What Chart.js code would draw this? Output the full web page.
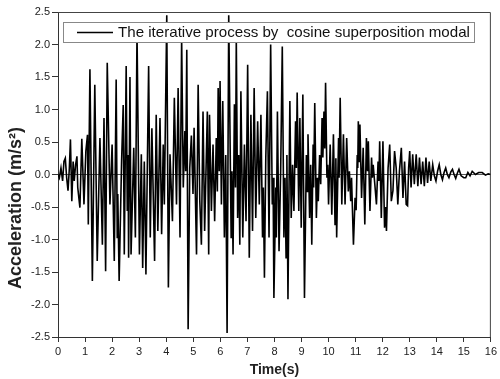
<!DOCTYPE html>
<html>
<head>
<meta charset="utf-8">
<script src="https://cdn.jsdelivr.net/npm/chart.js@4.4.1/dist/chart.umd.min.js"></script>
<style>
html,body{margin:0;padding:0;background:#fff;}
#c{display:block;}
</style>
</head>
<body>
<canvas id="c" width="500" height="379" style="width:500px;height:379px"></canvas>
<script>
// ---- data ----
const legendLabel = "The iterative process by  cosine superposition modal";
const xTitle = "Time(s)";
const yTitle = "Acceleration (m/s\u00B2)";

const time = [
0,0.05,0.11,0.17,0.22,0.27,0.32,0.37,0.42,0.46,0.51,0.56,0.60,0.65,0.70,0.73,0.81,0.88,0.96,1.03,1.09,1.12,1.18,1.27,1.36,1.45,1.55,1.64,1.70,1.76,1.82,1.92,2.00,2.08,2.15,2.19,2.21,2.26,2.35,2.41,2.45,2.52,2.56,2.59,2.61,2.66,
2.70,2.80,2.86,2.92,3.01,3.08,3.13,3.19,3.25,3.35,3.41,3.47,3.57,3.63,3.69,3.77,3.83,3.89,3.93,4.02,4.08,4.14,4.23,4.30,4.38,4.44,4.51,4.57,4.63,4.69,4.72,4.76,4.81,4.87,4.93,4.99,5.03,5.12,5.18,
5.24,5.30,5.36,5.42,5.52,5.57,5.60,5.67,5.73,5.79,5.85,5.89,5.92,5.96,5.99,6.04,6.09,6.15,6.20,6.25,6.31,6.40,6.43,6.47,6.52,6.56,6.59,6.64,6.68,6.72,6.76,6.83,6.89,6.95,7.01,7.07,7.13,7.19,7.25,7.31,7.38,7.44,7.50,7.56,7.59,7.63,7.68,
7.74,7.80,7.86,7.92,7.95,7.98,8.05,8.07,8.11,8.17,8.23,8.29,8.35,8.39,8.43,8.46,8.50,8.57,8.62,8.67,8.72,8.78,8.81,8.84,8.90,8.94,8.99,9.05,9.11,9.18,9.21,9.24,9.30,9.34,9.38,9.43,9.45,9.49,9.55,9.59,9.62,9.67,9.71,9.76,9.79,9.83,9.86,9.89,9.94,9.97,10.00,10.06,10.12,10.18,10.24,10.27,10.30,
10.37,10.39,10.43,10.49,10.55,10.61,10.67,10.73,10.77,10.82,10.85,10.92,10.98,11.02,11.06,11.08,11.10,11.13,11.16,11.22,11.28,11.34,11.40,11.44,11.47,11.53,11.59,11.62,11.65,11.71,11.77,11.83,11.86,11.89,11.95,12.01,12.07,12.11,12.14,12.20,12.26,12.32,12.38,12.44,12.50,12.56,12.62,12.69,12.75,12.81,12.87,
12.92,12.96,13.00,13.05,13.11,13.17,13.24,13.30,13.36,13.42,13.48,13.54,13.60,13.66,13.72,13.78,13.85,13.91,13.97,14.03,14.09,14.15,14.21,14.27,14.33,14.39,14.45,14.52,14.58,14.64,14.70,14.76,14.82,14.90,15.00,15.07,15.15,15.23,15.31,15.43,15.55,15.68,15.80,15.90,16.00
];

const accel = [
0,-0.05,0.10,-0.10,0.20,0.25,-0.05,-0.25,0.10,0.54,-0.41,0.20,-0.10,0.15,0.28,-0.20,-0.51,0.55,-0.46,0.36,0.61,-0.77,1.62,-1.64,1.38,-1.33,0.56,-1.08,0.87,-1.49,1.72,-0.46,0.46,-1.33,1.46,-0.97,-0.30,-1.64,0.20,1.07,-1.23,1.67,-0.56,0.30,-1.28,1.50,
-1.23,0.41,-0.97,2.20,-1.23,0.31,-1.44,0.20,-1.54,1.67,-0.97,0.71,-1.33,0.92,-0.87,0.87,-0.92,0.46,-0.46,2.45,-1.74,0.31,-0.72,1.18,-0.46,1.33,-0.97,2.10,-0.20,0.67,0.05,1.92,-2.38,0.10,0.60,-0.30,0.72,-1.23,1.38,
-0.40,-1.08,0.97,-0.87,0.97,-1.23,0.92,-0.56,0.46,-0.72,0.56,-0.26,1.33,0.05,1.44,-0.46,1.13,-0.97,0.30,-2.44,2.45,-0.97,0.05,-1.23,1.08,-0.20,2.10,-0.67,0.30,-1.08,1.28,-0.97,0.46,-0.72,1.69,-1.28,0.92,-0.87,1.33,-0.67,0.82,-0.46,0.92,-0.97,-0.20,-1.59,0.26,
1.28,-0.97,2.00,-0.46,-0.05,-1.90,-0.20,-0.97,0.97,-1.18,0.05,1.97,-0.97,-0.05,-1.28,0.30,-1.92,1.13,-0.67,0.15,-0.56,0.82,0.10,1.26,-0.56,0.87,-0.82,1.23,-1.90,0.30,-0.26,0.62,-0.67,0.15,-1.08,0.46,-0.20,1.10,-0.67,-0.05,-0.41,0.30,-0.15,0.87,0.26,0.97,0.40,1.41,-0.05,0.15,-0.46,0.46,-0.62,0.62,-0.77,0.25,-0.97,
0.56,-0.05,1.18,-0.46,0.62,-0.46,0.56,-0.26,0.05,-0.41,-0.05,-1.08,-0.36,-0.55,0.30,0.10,0.82,0.20,0.77,-0.36,0.41,-0.77,0.56,0.05,0.51,-0.56,0.26,-0.05,0.15,-0.15,-0.46,0.20,-0.10,0.51,-0.67,0.51,-0.82,-0.50,-0.87,0.10,0.46,-0.41,-0.25,0.36,0.10,-0.46,0.05,0.41,-0.36,0.20,-0.46,
-0.48,0.10,0.36,-0.20,0.31,-0.15,0.31,-0.18,0.26,-0.15,0.20,-0.18,0.26,-0.13,0.20,-0.10,0.15,-0.02,-0.10,0.05,0.15,0.00,-0.08,0.03,0.10,0.00,-0.05,0.04,0.08,0.00,-0.06,0.02,0.08,-0.02,-0.05,-0.05,0.03,-0.02,0.05,0.00,0.03,0.03,-0.01,0.01,0.00
];

const xTicks = {min:0, max:16, step:1};
const yTicks = {min:-2.5, max:2.5, step:0.5};

// ---- chart ----
const FONT = "'Liberation Sans', Arial, sans-serif";

const framePlugin = {
  id: 'frameAndLegend',
  afterDatasetsDraw(chart) {
    const {ctx, chartArea: a} = chart;
    ctx.save();
    // top & right frame
    ctx.strokeStyle = '#444';
    ctx.lineWidth = 1;
    ctx.beginPath();
    ctx.moveTo(a.left, a.top + 0.5);
    ctx.lineTo(a.right - 0.5, a.top + 0.5);
    ctx.lineTo(a.right - 0.5, a.bottom);
    ctx.stroke();
    // legend box
    const bx = a.left + 5, by = a.top + 10, bw = 411, bh = 20;
    ctx.fillStyle = '#fff';
    ctx.fillRect(bx, by, bw, bh);
    ctx.strokeStyle = '#888';
    ctx.lineWidth = 1;
    ctx.strokeRect(bx + 0.5, by + 0.5, bw, bh);
    ctx.strokeStyle = '#000';
    ctx.lineWidth = 1.6;
    ctx.beginPath();
    const ly = by + bh / 2 + 0.5;
    ctx.moveTo(bx + 14, ly);
    ctx.lineTo(bx + 50, ly);
    ctx.stroke();
    let fs = 14;
    ctx.font = fs + 'px ' + FONT;
    const w = ctx.measureText(legendLabel).width;
    fs = fs * 352 / w;
    ctx.font = fs.toFixed(2) + 'px ' + FONT;
    ctx.fillStyle = '#111';
    ctx.textBaseline = 'middle';
    ctx.textAlign = 'left';
    ctx.fillText(legendLabel, bx + 55, ly + 0.5);
    // y axis title (positioned like the reference, below the axis centre)
    let ts = 16;
    ctx.font = 'bold ' + ts + 'px ' + FONT;
    const tw = ctx.measureText(yTitle).width;
    ts = ts * 162 / tw;
    ctx.font = 'bold ' + ts.toFixed(2) + 'px ' + FONT;
    ctx.translate(16, 208);
    ctx.rotate(-Math.PI / 2);
    ctx.textAlign = 'center';
    ctx.textBaseline = 'middle';
    ctx.fillStyle = '#222';
    ctx.fillText(yTitle, 0, 0);
    ctx.restore();
  }
};

new Chart(document.getElementById('c'), {
  type: 'line',
  data: {
    datasets: [{
      label: legendLabel,
      data: time.map((t, i) => ({x: t, y: accel[i]})),
      borderColor: '#000',
      borderWidth: 1.6,
      pointRadius: 0,
      tension: 0,
      fill: false
    }]
  },
  options: {
    responsive: false,
    animation: false,
    devicePixelRatio: 1,
    layout: {padding: {top: 12, right: 6, left: 0, bottom: 0}},
    plugins: {legend: {display: false}, tooltip: {enabled: false}},
    scales: {
      x: {
        type: 'linear',
        min: xTicks.min, max: xTicks.max,
        afterFit: s => { s.height = 42; },
        ticks: {stepSize: xTicks.step, color: '#222', font: {family: FONT, size: 11}, padding: 3, maxRotation: 0},
        grid: {drawOnChartArea: false, drawTicks: true, tickLength: 5, tickColor: '#333'},
        border: {display: true, color: '#333', width: 1},
        title: {display: true, text: xTitle, color: '#222', font: {family: FONT, size: 14, weight: 'bold'}, padding: {top: 0, bottom: 0}}
      },
      y: {
        min: yTicks.min, max: yTicks.max,
        afterFit: s => { s.width = 58; },
        ticks: {stepSize: yTicks.step, color: '#222', font: {family: FONT, size: 11}, padding: 2,
                callback: v => Number(v).toFixed(1)},
        grid: {
          color: c => (c.tick && Math.abs(c.tick.value) < 1e-9) ? '#555' : 'rgba(0,0,0,0)',
          lineWidth: 1, drawTicks: true, tickLength: 6, tickColor: '#333'
        },
        border: {display: true, color: '#333', width: 1},
        title: {display: false}
      }
    }
  },
  plugins: [framePlugin]
});
</script>
</body>
</html>
